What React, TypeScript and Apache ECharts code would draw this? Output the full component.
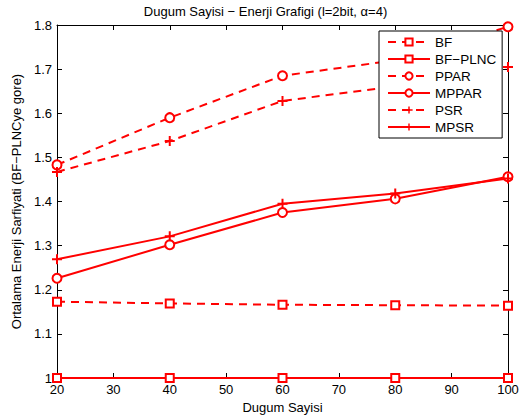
import React, { useEffect, useRef } from "react";
import * as echarts from "echarts";

const xValues = [20, 40, 60, 80, 100];
const seriesNames = ["BF", "BF\u2212PLNC", "PPAR", "MPPAR", "PSR", "MPSR"];
const bf = [1.173, 1.169, 1.166, 1.165, 1.164];
const bfPlnc = [1.0, 1.0, 1.0, 1.0, 1.0];
const ppar = [1.483, 1.59, 1.685, 1.72, 1.796];
const mppar = [1.226, 1.302, 1.375, 1.406, 1.456];
const psr = [1.467, 1.537, 1.628, 1.661, 1.705];
const mpsr = [1.269, 1.321, 1.395, 1.418, 1.452];

const title = "Dugum Sayisi \u2212 Enerji Grafigi (l=2bit, \u03b1=4)";
const xTitle = "Dugum Sayisi";
const yTitle = "Ortalama Enerji Sarfiyati (BF\u2212PLNCye gore)";

const PLUS = "path://M4,0h2v4h4v2h-4v4h-2v-4h-4v-2h4z";
const FONT = "Liberation Sans";

export default function App() {
  const ref = useRef<HTMLDivElement>(null);
  useEffect(() => {
    const chart = echarts.init(ref.current!, null, { renderer: "svg" });
    const red = "#ff0000";
    const mk = (
      name: string,
      data: number[],
      dashed: boolean,
      symbol: string,
      size: number
    ) => ({
      name,
      type: "line",
      data: xValues.map((x, i) => [x, data[i]]),
      symbol,
      symbolSize: size,
      showAllSymbol: true,
      lineStyle: { color: red, width: 2, type: dashed ? [8, 6] : "solid" },
      itemStyle: {
        color: symbol === PLUS ? red : "#ffffff",
        borderColor: red,
        borderWidth: symbol === PLUS ? 0 : 2,
      },
      emphasis: { disabled: true },
    });
    const axisCommon = {
      axisLine: { show: true, lineStyle: { color: "#000", width: 1 } },
      axisTick: { show: true, inside: true, length: 5, lineStyle: { color: "#000" } },
      splitLine: { show: false },
    };
    chart.setOption({
      animation: false,
      backgroundColor: "#ffffff",
      title: {
        text: title,
        left: "center",
        top: 0,
        textStyle: { fontFamily: FONT, fontSize: 13, fontWeight: "normal", color: "#000" },
      },
      grid: { left: 57, right: 23, top: 25, bottom: 42, show: false },
      legend: {
        orient: "vertical",
        left: 379,
        top: 31,
        width: 121,
        backgroundColor: "#ffffff",
        borderColor: "#000",
        borderWidth: 1,
        padding: [4, 6, 4, 8],
        itemWidth: 42,
        itemHeight: 9,
        itemGap: 3,
        textStyle: { fontFamily: FONT, fontSize: 13.5, lineHeight: 14, color: "#000" },
        data: seriesNames,
      },
      xAxis: [
        {
          type: "value",
          min: 20,
          max: 100,
          interval: 10,
          position: "bottom",
          name: xTitle,
          nameLocation: "middle",
          nameGap: 22,
          nameTextStyle: { fontFamily: FONT, fontSize: 13, color: "#000" },
          axisLabel: { fontFamily: FONT, fontSize: 13, color: "#000", margin: 5 },
          ...axisCommon,
        },
        {
          type: "value",
          min: 20,
          max: 100,
          interval: 10,
          position: "top",
          axisLabel: { show: false },
          ...axisCommon,
        },
      ],
      yAxis: [
        {
          type: "value",
          min: 1,
          max: 1.8,
          interval: 0.1,
          position: "left",
          name: yTitle,
          nameLocation: "middle",
          nameGap: 31,
          nameTextStyle: { fontFamily: FONT, fontSize: 13, color: "#000" },
          axisLabel: {
            fontFamily: FONT,
            fontSize: 13,
            color: "#000",
            margin: 5,
            formatter: (v: number) => String(Number(v.toFixed(1))),
          },
          ...axisCommon,
        },
        {
          type: "value",
          min: 1,
          max: 1.8,
          interval: 0.1,
          position: "right",
          axisLabel: { show: false },
          ...axisCommon,
        },
      ],
      series: [
        mk(seriesNames[0], bf, true, "rect", 8),
        mk(seriesNames[1], bfPlnc, false, "rect", 8),
        mk(seriesNames[2], ppar, true, "circle", 9),
        mk(seriesNames[3], mppar, false, "circle", 9),
        mk(seriesNames[4], psr, true, PLUS, 10),
        mk(seriesNames[5], mpsr, false, PLUS, 10),
      ],
    });
    return () => chart.dispose();
  }, []);
  return <div ref={ref} style={{ width: 531, height: 420, position: "absolute", left: 0, top: 0 }} />;
}
